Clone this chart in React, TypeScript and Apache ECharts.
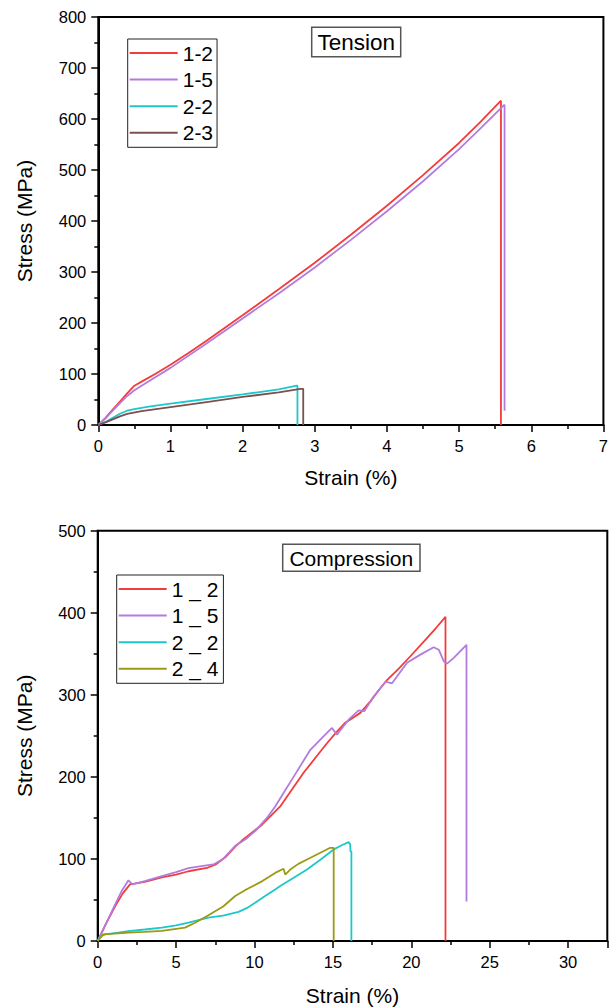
import React, { useEffect, useRef } from "react";
import * as echarts from "echarts";

// ---------- Tension data (strain %, stress MPa) ----------
const tension12: [number, number][] = [
  [0, 0], [0.1, 14], [0.2, 30], [0.3, 46], [0.4, 62], [0.5, 77], [0.6, 85], [0.8, 101], [1, 118],
  [1.25, 141], [1.5, 165], [1.75, 190], [2, 215], [2.5, 266], [3, 318], [3.5, 373], [4, 430],
  [4.5, 490], [5, 553], [5.3, 595], [5.58, 636], [5.58, 0],
];
const tension15: [number, number][] = [
  [0, 0], [0.1, 13], [0.2, 28], [0.3, 43], [0.4, 57], [0.5, 68], [0.75, 90], [1, 112], [1.5, 160],
  [2, 209], [2.5, 258], [3, 309], [3.5, 363], [4, 419], [4.5, 478], [5, 541], [5.3, 582],
  [5.63, 628], [5.63, 28],
];
const tension22: [number, number][] = [
  [0, 0], [0.1, 6], [0.2, 14], [0.3, 22], [0.4, 28], [0.5, 31], [0.7, 36], [1, 42], [1.5, 51],
  [2, 60], [2.5, 70], [2.75, 77], [2.76, 77], [2.76, 0],
];
const tension23: [number, number][] = [
  [0, 0], [0.1, 5], [0.2, 11], [0.3, 17], [0.4, 22], [0.6, 27], [1, 35], [1.5, 45], [2, 55],
  [2.5, 64], [2.8, 71], [2.84, 71], [2.84, 0],
];

// ---------- Compression data (strain %, stress MPa) ----------
const comp12: [number, number][] = [
  [0, 0], [0.5, 20], [1.1, 42], [1.6, 58], [2.06, 69], [3, 72], [4.09, 77.5], [5, 81], [5.79, 85],
  [6.96, 89], [7.5, 93], [8.2, 103], [8.77, 115], [9.3, 124], [9.83, 132], [10.5, 142],
  [11.32, 158], [11.64, 164], [12.4, 185], [13.13, 205], [14, 226], [14.62, 241], [15.2, 254],
  [15.79, 266], [16.75, 278], [17.39, 292], [17.9, 305], [18.45, 318], [19.2, 332], [19.94, 347],
  [21, 369], [21.6, 382], [22.18, 395], [22.18, 0],
];
const comp15: [number, number][] = [
  [0, 0], [0.5, 20], [1, 40], [1.5, 60], [1.96, 74], [2.21, 69], [3, 73], [4.09, 79], [5, 84],
  [5.79, 88.8], [6.5, 91], [7.38, 93.3], [8, 100], [8.77, 116], [9.5, 125], [10.04, 134],
  [10.79, 150], [11.32, 164], [12, 185], [12.49, 200], [13.56, 233], [14.51, 251.5], [14.94, 259.6],
  [15.26, 251.5], [16.0, 269.7], [16.64, 281], [17.0, 280], [17.6, 298], [18.35, 316], [18.77, 314],
  [19.73, 339], [20.58, 349], [21.43, 358], [21.75, 355], [22.07, 341], [22.28, 338], [22.71, 345],
  [23.52, 361], [23.52, 48],
];
const comp22: [number, number][] = [
  [0, 0], [0.2, 6], [0.47, 8], [1.2, 10], [1.96, 12], [3, 14], [4.09, 16.3], [5, 19], [5.79, 22.3],
  [7.06, 28.4], [8, 31], [8.98, 35.5], [9.5, 40], [10.04, 46.7], [10.7, 55], [11.32, 62.9],
  [11.64, 67], [12.5, 77], [13.35, 87.2], [14.2, 99], [15.05, 111.6], [15.6, 117], [16.0, 120.5],
  [16.1, 118], [16.12, 109.5], [16.18, 109], [16.18, 0],
];
const comp24: [number, number][] = [
  [0, 0], [0.36, 8.1], [1.96, 10.2], [3, 11], [4.09, 12.3], [5.57, 16.3], [6.21, 22.3], [7.06, 31.3],
  [8, 42], [8.77, 54.8], [9.5, 63], [10.5, 73], [11.32, 83], [11.85, 88], [11.96, 81], [12.28, 87],
  [12.8, 94], [13.35, 99.4], [14.2, 107.5], [14.83, 113.6], [15.05, 113.6], [15.05, 0],
];

const tensionNames = ["1-2", "1-5", "2-2", "2-3"];
const compressionNames = ["1 _ 2", "1 _ 5", "2 _ 2", "2 _ 4"];
const tensionSets = [tension12, tension15, tension22, tension23];
const compressionSets = [comp12, comp15, comp22, comp24];
const tensionColors = ["#F23C3C", "#B47BDF", "#1EC8C8", "#7B5050"];
const compressionColors = ["#F23C3C", "#B47BDF", "#1EC8C8", "#9A9A14"];

const FONT = "'Liberation Sans', Arial, sans-serif";

function axisCommon(extra: any) {
  return {
    type: "value",
    axisLine: { show: true, onZero: false, lineStyle: { color: "#000", width: 2 } },
    axisTick: { show: true, inside: false, length: 7, lineStyle: { color: "#000", width: 1.5 } },
    minorTick: { show: true, splitNumber: 2, length: 4, lineStyle: { color: "#000", width: 1.5 } },
    splitLine: { show: false },
    minorSplitLine: { show: false },
    axisLabel: { color: "#000", fontSize: 16.5, fontFamily: FONT, margin: 12 },
    nameTextStyle: { color: "#000", fontSize: 21, fontFamily: FONT },
    nameLocation: "middle",
    ...extra,
  };
}

export default function App() {
  const ref = useRef<HTMLDivElement>(null);
  useEffect(() => {
    if (!ref.current) return;
    const chart = echarts.init(ref.current, undefined, { renderer: "svg" });
    const series: any[] = [];
    tensionSets.forEach((d, i) => {
      series.push({
        name: tensionNames[i], type: "line", data: d, xAxisIndex: 0, yAxisIndex: 0,
        showSymbol: false, symbol: "none", lineStyle: { width: 1.8, color: tensionColors[i] },
        itemStyle: { color: tensionColors[i] }, clip: true,
      });
    });
    compressionSets.forEach((d, i) => {
      series.push({
        name: compressionNames[i], type: "line", data: d, xAxisIndex: 1, yAxisIndex: 1,
        showSymbol: false, symbol: "none", lineStyle: { width: 1.8, color: compressionColors[i] },
        itemStyle: { color: compressionColors[i] }, clip: true,
      });
    });
    const legendCommon = {
      orient: "vertical",
      icon: "rect",
      itemWidth: 48,
      itemHeight: 2,
      itemGap: 5.6,
      borderColor: "#222",
      borderWidth: 1,
      backgroundColor: "#fff",
      textStyle: { color: "#000", fontSize: 21, fontFamily: FONT, lineHeight: 21 },
      selectedMode: false,
    };
    const option: any = {
      animation: false,
      backgroundColor: "#fff",
      grid: [
        { left: 98.3, top: 17, width: 505.7, height: 408, show: true, borderColor: "#000", borderWidth: 2 },
        { left: 97.7, top: 530.7, width: 509.6, height: 411, show: true, borderColor: "#000", borderWidth: 2 },
      ],
      xAxis: [
        axisCommon({ gridIndex: 0, min: 0, max: 7, interval: 1, name: "Strain (%)", nameGap: 42 }),
        axisCommon({
          gridIndex: 1, min: 0, max: 32.5, interval: 5, name: "Strain (%)", nameGap: 44,
          axisLabel: { color: "#000", fontSize: 16.5, fontFamily: FONT, margin: 12, showMaxLabel: false },
        }),
      ],
      yAxis: [
        axisCommon({ gridIndex: 0, min: 0, max: 800, interval: 100, name: "Stress (MPa)", nameGap: 63 }),
        axisCommon({ gridIndex: 1, min: 0, max: 500, interval: 100, name: "Stress (MPa)", nameGap: 63 }),
      ],
      legend: [
        { ...legendCommon, data: tensionNames, left: 127.7, top: 39, padding: [3.5, 4, 4, 2] },
        { ...legendCommon, data: compressionNames, left: 116.7, top: 575, padding: [3.5, 5, 4, 2] },
      ],
      graphic: [
        {
          type: "rect", shape: { x: 311.7, y: 27.3, width: 89, height: 29.4 },
          style: { fill: "#fff", stroke: "#555", lineWidth: 1.5 }, z: 100,
        },
        {
          type: "text", x: 356.2, y: 42.2, z: 101,
          style: { text: "Tension", fontSize: 22.5, fontFamily: FONT, fill: "#000", align: "center", verticalAlign: "middle" },
        },
        {
          type: "rect", shape: { x: 282.7, y: 544.3, width: 137.3, height: 27 },
          style: { fill: "#fff", stroke: "#555", lineWidth: 1.5 }, z: 100,
        },
        {
          type: "text", x: 351.3, y: 558, z: 101,
          style: { text: "Compression", fontSize: 21, fontFamily: FONT, fill: "#000", align: "center", verticalAlign: "middle" },
        },
      ],
      series,
    };
    chart.setOption(option);
    return () => chart.dispose();
  }, []);
  return (
    <div
      ref={ref}
      style={{ position: "fixed", left: 0, top: 0, width: 611, height: 1007, background: "#fff" }}
    />
  );
}
